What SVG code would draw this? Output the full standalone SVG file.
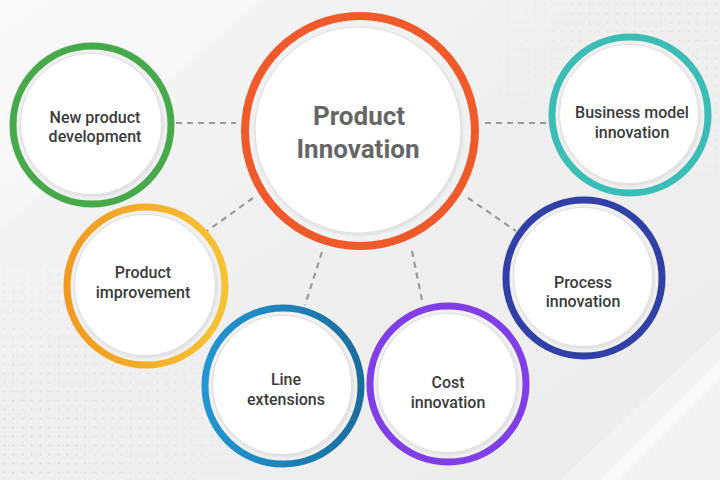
<svg xmlns="http://www.w3.org/2000/svg" width="720" height="480" viewBox="0 0 720 480">
  <defs>
    <style>
      .ring { fill: #f1f1f2; }
      .disc { fill: #ffffff; stroke: #e0e0e4; stroke-width: 1.2; filter: url(#sh); }
      .lbl { font-family: Roboto, "Liberation Sans", sans-serif; font-weight: 500; font-size: 16px; fill: #3b3b3b; text-anchor: middle; }
      .main { font-family: Roboto, "Liberation Sans", sans-serif; font-weight: 700; font-size: 26px; fill: #666666; text-anchor: middle; }
      .conn { stroke: #9a9a9a; stroke-width: 2.2; stroke-dasharray: 6 5; fill: none; }
    </style>
    <linearGradient id="bg" x1="0" y1="0" x2="1" y2="1">
      <stop offset="0" stop-color="#f6f6f6"/>
      <stop offset="0.5" stop-color="#efefef"/>
      <stop offset="1" stop-color="#ececec"/>
    </linearGradient>
    <linearGradient id="gOrange" x1="0" y1="0" x2="1" y2="0">
      <stop offset="0" stop-color="#f29a1f"/>
      <stop offset="1" stop-color="#f6c332"/>
    </linearGradient>
    <linearGradient id="gBlue" x1="0" y1="0" x2="1" y2="0">
      <stop offset="0" stop-color="#2196d3"/>
      <stop offset="1" stop-color="#1a6e9e"/>
    </linearGradient>
    <pattern id="dots" width="9" height="9" patternUnits="userSpaceOnUse">
      <circle cx="4.5" cy="4.5" r="1.1" fill="#d6d6d6"/>
    </pattern>
    <radialGradient id="fadeBL" cx="0.1" cy="0.9" r="0.9">
      <stop offset="0" stop-color="#fff" stop-opacity="1"/>
      <stop offset="1" stop-color="#fff" stop-opacity="0"/>
    </radialGradient>
    <radialGradient id="fadeTR" cx="0.8" cy="0.2" r="0.8">
      <stop offset="0" stop-color="#fff" stop-opacity="0.8"/>
      <stop offset="1" stop-color="#fff" stop-opacity="0"/>
    </radialGradient>
    <mask id="mBL"><rect x="0" y="200" width="330" height="280" fill="url(#fadeBL)"/></mask>
    <mask id="mTR"><rect x="440" y="0" width="280" height="250" fill="url(#fadeTR)"/></mask>
    <filter id="sh" x="-10%" y="-10%" width="120%" height="120%">
      <feDropShadow dx="1" dy="1.5" stdDeviation="1.5" flood-color="#000" flood-opacity="0.1"/>
    </filter>
  </defs>

  <!-- background -->
  <rect width="720" height="480" fill="url(#bg)"/>
  <polygon points="0,0 260,0 0,230" fill="#ffffff" opacity="0.35"/>
  <polygon points="720,330 720,480 560,480" fill="#ffffff" opacity="0.35"/>
  <polygon points="600,480 720,360 720,380 620,480" fill="#ffffff" opacity="0.5"/>
  <rect x="0" y="200" width="330" height="280" fill="url(#dots)" mask="url(#mBL)"/>
  <rect x="440" y="0" width="280" height="250" fill="url(#dots)" mask="url(#mTR)"/>

  <!-- connectors -->
  <g id="connectors">
    <line class="conn" x1="176" y1="123" x2="236" y2="123"/>
    <line class="conn" x1="485" y1="123" x2="546" y2="123"/>
    <line class="conn" x1="253" y1="198" x2="207" y2="231"/>
    <line class="conn" x1="468" y1="198" x2="516" y2="231"/>
    <line class="conn" x1="322" y1="252" x2="305" y2="305"/>
    <line class="conn" x1="412" y1="251" x2="423" y2="305"/>
  </g>

  <!-- center -->
  <g id="product-innovation">
    <circle cx="360" cy="131" r="115" class="ring" stroke="#f0592a" stroke-width="8"/>
    <circle cx="358" cy="130" r="103" class="disc"/>
    <text class="main" x="359" y="125">Product</text>
    <text class="main" x="358" y="158">Innovation</text>
  </g>

  <g id="new-product-development">
    <circle cx="92" cy="125" r="79" class="ring" stroke="#46a94a" stroke-width="7"/>
    <circle cx="91" cy="124" r="70.5" class="disc"/>
    <text class="lbl" x="95" y="123">New product</text>
    <text class="lbl" x="95" y="142">development</text>
  </g>

  <g id="product-improvement">
    <circle cx="146" cy="286" r="79" class="ring" stroke="url(#gOrange)" stroke-width="7"/>
    <circle cx="145" cy="285" r="70.5" class="disc"/>
    <text class="lbl" x="143" y="278">Product</text>
    <text class="lbl" x="143" y="298">improvement</text>
  </g>

  <g id="business-model-innovation">
    <circle cx="630" cy="115" r="78" class="ring" stroke="#3bbcb4" stroke-width="7"/>
    <circle cx="629" cy="114" r="69.5" class="disc"/>
    <text class="lbl" x="632" y="118">Business model</text>
    <text class="lbl" x="632" y="138">innovation</text>
  </g>

  <g id="process-innovation">
    <circle cx="584" cy="278" r="78" class="ring" stroke="#3140a6" stroke-width="7"/>
    <circle cx="583" cy="277" r="69.5" class="disc"/>
    <text class="lbl" x="583" y="288">Process</text>
    <text class="lbl" x="583" y="307">innovation</text>
  </g>

  <g id="line-extensions">
    <circle cx="283" cy="386" r="78" class="ring" stroke="url(#gBlue)" stroke-width="7"/>
    <circle cx="282" cy="385" r="69.5" class="disc"/>
    <text class="lbl" x="286" y="385">Line</text>
    <text class="lbl" x="286" y="405">extensions</text>
  </g>

  <g id="cost-innovation">
    <circle cx="448" cy="384" r="78" class="ring" stroke="#7f3ee6" stroke-width="7"/>
    <circle cx="447" cy="383" r="69.5" class="disc"/>
    <text class="lbl" x="448" y="388">Cost</text>
    <text class="lbl" x="448" y="408">innovation</text>
  </g>
</svg>
